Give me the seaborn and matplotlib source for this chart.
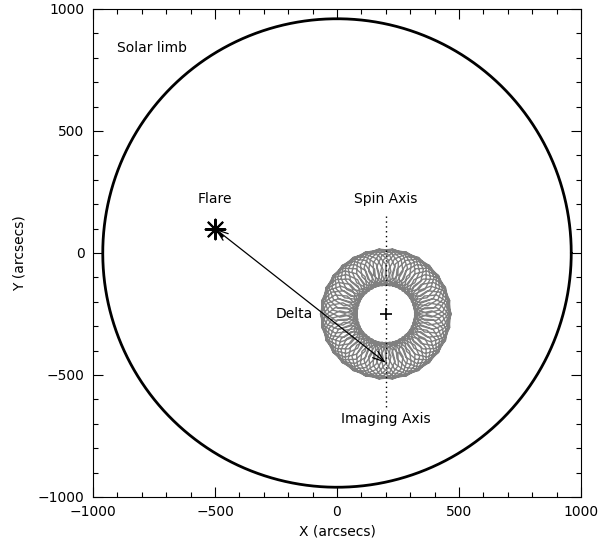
import numpy as np
import pandas as pd
import matplotlib
matplotlib.use("Agg")
import matplotlib.pyplot as plt
import seaborn as sns

# ---- data ----
limb_radius = 960.0                 # arcsec
flare_xy = (-500.0, 100.0)
spin_axis_xy = (200.0, -250.0)
imaging_axis_xy = (200.0, -450.0)
rosette_r1 = 192.0                  # radius of the imaging-axis circle about spin axis
rosette_r2 = 76.0                   # wobble radius
rosette_loops = 71                  # wobble loops per revolution
rosette_samples = 660               # samples along one revolution
dotted_y = [150.0, -630.0]
major_ticks = [-1000, -500, 0, 500, 1000]
tick_labels = ["\u22121000", "\u2212500", "0", "500", "1000"]
minor_ticks = list(range(-1000, 1001, 100))
labels = [("Solar limb", -900, 840, "left"),
          ("Flare", -500, 220, "center"),
          ("Spin Axis", 200, 220, "center"),
          ("Delta", -100, -250, "right"),
          ("Imaging Axis", 200, -680, "center")]

sns.set_theme(style="white")
plt.rcParams['font.family'] = ['DejaVu Sans']

fig = plt.figure(figsize=(6.13, 5.40), dpi=100)
ax = fig.add_axes([93/613, 1 - 497/540, (581-93)/613, (497-9)/540])

# solar limb
th = np.linspace(0, 2*np.pi, 1441)
limb = pd.DataFrame({"x": limb_radius*np.cos(th), "y": limb_radius*np.sin(th)})
sns.lineplot(data=limb, x="x", y="y", sort=False, estimator=None, color="black",
             lw=2.0, ax=ax)

# rosette of imaging axis motion (sampled trajectory)
t = np.linspace(0, 2*np.pi, rosette_samples + 1)
ros = pd.DataFrame({
    "x": spin_axis_xy[0] + rosette_r1*np.cos(t) + rosette_r2*np.cos(rosette_loops*t),
    "y": spin_axis_xy[1] + rosette_r1*np.sin(t) + rosette_r2*np.sin(rosette_loops*t),
})
sns.lineplot(data=ros, x="x", y="y", sort=False, estimator=None, color="#808080",
             lw=1.0, ax=ax)

# dotted vertical line through spin axis
sns.lineplot(x=[spin_axis_xy[0], spin_axis_xy[0]], y=dotted_y, sort=False,
             estimator=None, color="black", lw=1.0, linestyle=(0, (1, 2.5)), ax=ax)

# arrow between imaging axis and flare
ax.annotate("", xy=flare_xy, xytext=imaging_axis_xy,
            arrowprops=dict(arrowstyle="<->,head_length=0.7,head_width=0.25",
                            color="black", lw=0.9, shrinkA=0, shrinkB=0))

# markers
sns.scatterplot(x=[flare_xy[0]], y=[flare_xy[1]], marker=(8, 2, 0), s=200,
                color="black", linewidth=1.5, ax=ax)
sns.scatterplot(x=[spin_axis_xy[0]], y=[spin_axis_xy[1]], marker="+", s=80,
                color="black", linewidth=1.2, ax=ax)

for txt, x, y, ha in labels:
    ax.text(x, y, txt, ha=ha, va="center", fontsize=10, color="black")

ax.set_xlim(-1000, 1000)
ax.set_ylim(-1000, 1000)
ax.set_xticks(major_ticks)
ax.set_xticklabels(tick_labels)
ax.set_yticks(major_ticks)
ax.set_yticklabels(tick_labels)
ax.set_xticks(minor_ticks, minor=True)
ax.set_yticks(minor_ticks, minor=True)
ax.tick_params(which="both", direction="in", top=True, right=True, bottom=True,
               left=True, color="black", labelsize=10, labelcolor="black", pad=6)
ax.tick_params(which="major", length=7, width=0.8)
ax.tick_params(which="minor", length=3.5, width=0.8)
for s in ax.spines.values():
    s.set_color("black")
    s.set_linewidth(0.8)
ax.set_xlabel("X (arcsecs)", fontsize=10, color="black", labelpad=4)
ax.set_ylabel("Y (arcsecs)", fontsize=10, color="black", labelpad=8)
ax.set_facecolor("white")

fig.savefig("out.png", dpi=100, facecolor="white")
